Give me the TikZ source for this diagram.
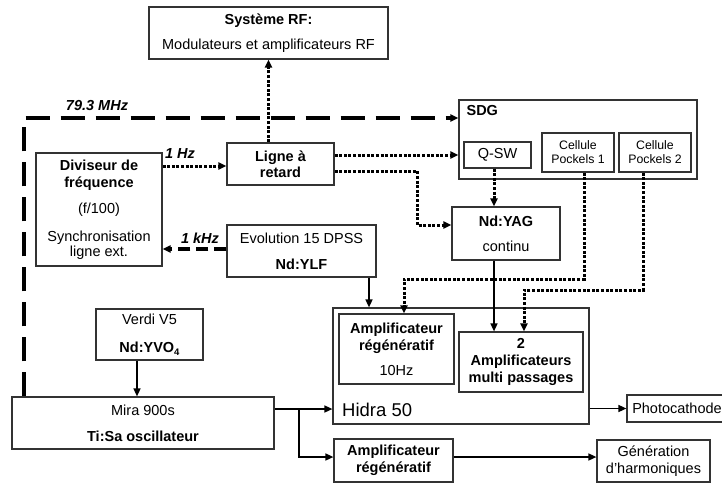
\documentclass[tikz,border=0pt]{standalone}
\usepackage{fontspec}
\setmainfont{Liberation Sans}
\usetikzlibrary{arrows.meta}
\newcommand\fsN{\fontsize{14.5}{17}\selectfont}
\newcommand\fsS{\fontsize{12.3}{14}\selectfont}
\newcommand\fsH{\fontsize{18.5}{22}\selectfont}
\begin{document}
\begin{tikzpicture}[x=1pt,y=-1pt,
  box/.style={draw=black!80, line width=1.2pt, inner sep=0pt, align=center, font=\fsN},
  tip/.style={-{Triangle[length=8pt,width=7pt]}},
  conn/.style={line width=1.5pt, tip},
  dotline/.style={line width=3pt, dash pattern=on 3pt off 1.6pt, tip},
  dashlong/.style={line width=4pt, dash pattern=on 24pt off 11pt, tip},
  dashshort/.style={line width=4pt, dash pattern=on 12pt off 6pt, tip},
  lbl/.style={font=\fsN\bfseries\itshape, inner sep=0pt}]
\useasboundingbox (0,0) rectangle (722,485);
% boxes
\node[box, minimum width=239pt, minimum height=52pt] (rf) at (268.5,33) {\textbf{Système RF:}\\[8pt]Modulateurs et amplificateurs RF};
\node[box, minimum width=238pt, minimum height=79pt,
  label={[anchor=north west, inner sep=0pt, xshift=8pt, yshift=-6pt, font=\fsN\bfseries]north west:SDG}] (sdg) at (578,139.5) {};
\node[box, minimum width=67pt, minimum height=26pt] (qsw) at (497.5,155) {Q-SW};
\node[box, minimum width=72pt, minimum height=39pt, font=\fsS] (pc1) at (578,152.5) {Cellule\\Pockels 1};
\node[box, minimum width=72pt, minimum height=39pt, font=\fsS] (pc2) at (655,152.5) {Cellule\\Pockels 2};
\node[box, minimum width=126pt, minimum height=113pt, font=\fontsize{14.5}{16}\selectfont] (div) at (99,209.5)
  {\textbf{Diviseur de}\\[1pt]\textbf{fréquence}\\[10pt](f/100)\\[12pt]Synchronisation\\[-1pt]ligne ext.};
\node[box, minimum width=107pt, minimum height=42pt, font=\fontsize{14.5}{16}\selectfont\bfseries] (ligne) at (280.5,164) {Ligne à\\retard};
\node[box, minimum width=108pt, minimum height=53pt] (yag) at (506,233.5) {\textbf{Nd:YAG}\\[8pt]continu};
\node[box, minimum width=149pt, minimum height=52pt] (evo) at (301.5,251) {Evolution 15 DPSS\\[9pt]\textbf{Nd:YLF}};
\node[box, minimum width=107pt, minimum height=51pt] (verdi) at (149.5,334.5) {Verdi V5\\[11pt]\textbf{Nd:YVO\raisebox{-0.35ex}{\fontsize{9.5}{10}\selectfont 4}}};
\node[box, minimum width=262pt, minimum height=52pt] (mira) at (143,423) {Mira 900s\\[9pt]\textbf{Ti:Sa oscillateur}};
\node[box, minimum width=256pt, minimum height=116pt] (hidra) at (461,366) {};
\node[inner sep=0pt, anchor=west, font=\fsH] (hidralbl) at (342,410) {Hidra 50};
\node[box, minimum width=115pt, minimum height=70pt] (regen) at (396.5,349) {\textbf{Amplificateur}\\\textbf{régénératif}\\[8pt]10Hz};
\node[box, minimum width=124pt, minimum height=60pt, font=\fsN\bfseries] (multi) at (521,362) {2\\Amplificateurs\\multi passages};
\node[box, minimum width=100pt, minimum height=27pt] (photo) at (677,408.5) {Photocathode};
\node[box, minimum width=119pt, minimum height=43pt, font=\fsN\bfseries] (regen2) at (393.5,460.5) {Amplificateur\\régénératif};
\node[box, minimum width=113pt, minimum height=42pt] (gen) at (653.5,461) {Génération\\d’harmoniques};
% connectors
\coordinate (c79) at (24,118);
\draw[dashlong] (mira.north -| c79) -- (c79) -- (sdg.west |- c79);
\node[lbl] (l79) at (97,106) {79.3 MHz};
\draw[dotline] (rf.south |- ligne.north) -- (rf.south);
\draw[dotline] (div.east |- 0,166) -- (ligne.west |- 0,166);
\node[lbl] (l1hz) at (180,154) {1 Hz};
\draw[dotline] (ligne.east |- qsw.west) -- (sdg.west |- qsw.west);
\draw[dotline] (ligne.east |- 0,171) -| (417,225) -- (yag.west |- 0,225);
\draw[dotline] (qsw.south -| 494,0) -- (yag.north -| 494,0);
\draw[dashshort] (evo.west |- 0,249) -- (div.east |- 0,249);
\node[lbl] (l1khz) at (200,238) {1 kHz};
\draw[conn] (evo.south -| 369,0) -- (hidra.north -| 369,0);
\draw[dotline] (pc1.south -| 584,0) |- (404,279) -- (regen.north -| 404,0);
\draw[dotline] (pc2.south -| 643,0) |- (524,290) -- (multi.north -| 524,0);
\draw[conn] (yag.south -| 494,0) -- (multi.north -| 494,0);
\draw[conn] (verdi.south -| 137,0) -- (mira.north -| 137,0);
\draw[conn] (mira.east |- 0,409) -- (hidra.west |- 0,409);
\draw[conn] (299,409) |- (regen2.west |- 0,457);
\draw[conn] (hidra.east |- photo.west) -- (photo.west);
\draw[conn] (regen2.east |- 0,457) -- (gen.west |- 0,457);
\end{tikzpicture}
\end{document}
